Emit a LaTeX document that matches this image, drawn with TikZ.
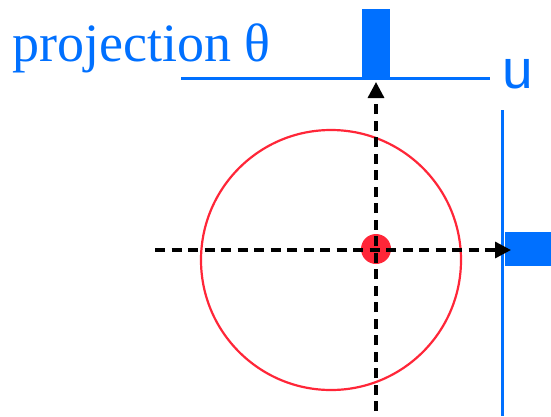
\documentclass[tikz,border=0pt]{standalone}
\usepackage{fontspec}
\setmainfont{Liberation Serif}
\newfontfamily\axisfont{Liberation Sans}
\usepackage{xcolor}
\usetikzlibrary{arrows.meta}
\definecolor{ProjBlue}{HTML}{0070FF}
\definecolor{SpotRed}{HTML}{FF2638}
\definecolor{PureWhite}{HTML}{FFFFFF}

\begin{document}
\begin{tikzpicture}[x=1pt, y=-1pt]
            \useasboundingbox[fill=PureWhite] (0,0) rectangle (551,416);

            % Object circle and its centre
            \draw[SpotRed, line width=2.2pt] (331,260) circle[radius=130];
            \fill[SpotRed] (376,249) circle[radius=15];

            % Title
            \node[anchor=base west, inner sep=0pt, text=ProjBlue, font=\fontsize{54}{54}\selectfont] (title) at (12,61) {projection θ};

            % Detector lines
            \coordinate (topL) at (181,78);
            \coordinate (topR) at (490,78);
            \coordinate (rightT) at (502,110);
            \coordinate (rightB) at (502,416);
            \draw[ProjBlue, line width=3pt] (topL) -- (topR);
            \draw[ProjBlue, line width=3pt] (rightT) -- (rightB);
            \node[anchor=base west, inner sep=0pt, text=ProjBlue, font=\axisfont\fontsize{55}{55}\selectfont] (u) at (502,88) {u};

            % Projection bars
            \fill[ProjBlue] (362,9) rectangle (390,78);
            \fill[ProjBlue] (505,232) rectangle (551,266);

            % Rays
            \coordinate (vStart) at (376,411);
            \coordinate (vEnd) at (376,82);
            \coordinate (hStart) at (155,250);
            \coordinate (hEnd) at (511,250);
            \draw[line width=3.3pt, dash pattern=on 10pt off 6.5pt, -{Triangle[length=16pt,width=16pt]}] (vStart) -- (vEnd);
            \draw[line width=3.3pt, dash pattern=on 10pt off 6.5pt, -{Triangle[length=16pt,width=16pt]}] (hStart) -- (hEnd);
        \end{tikzpicture}
\end{document}
